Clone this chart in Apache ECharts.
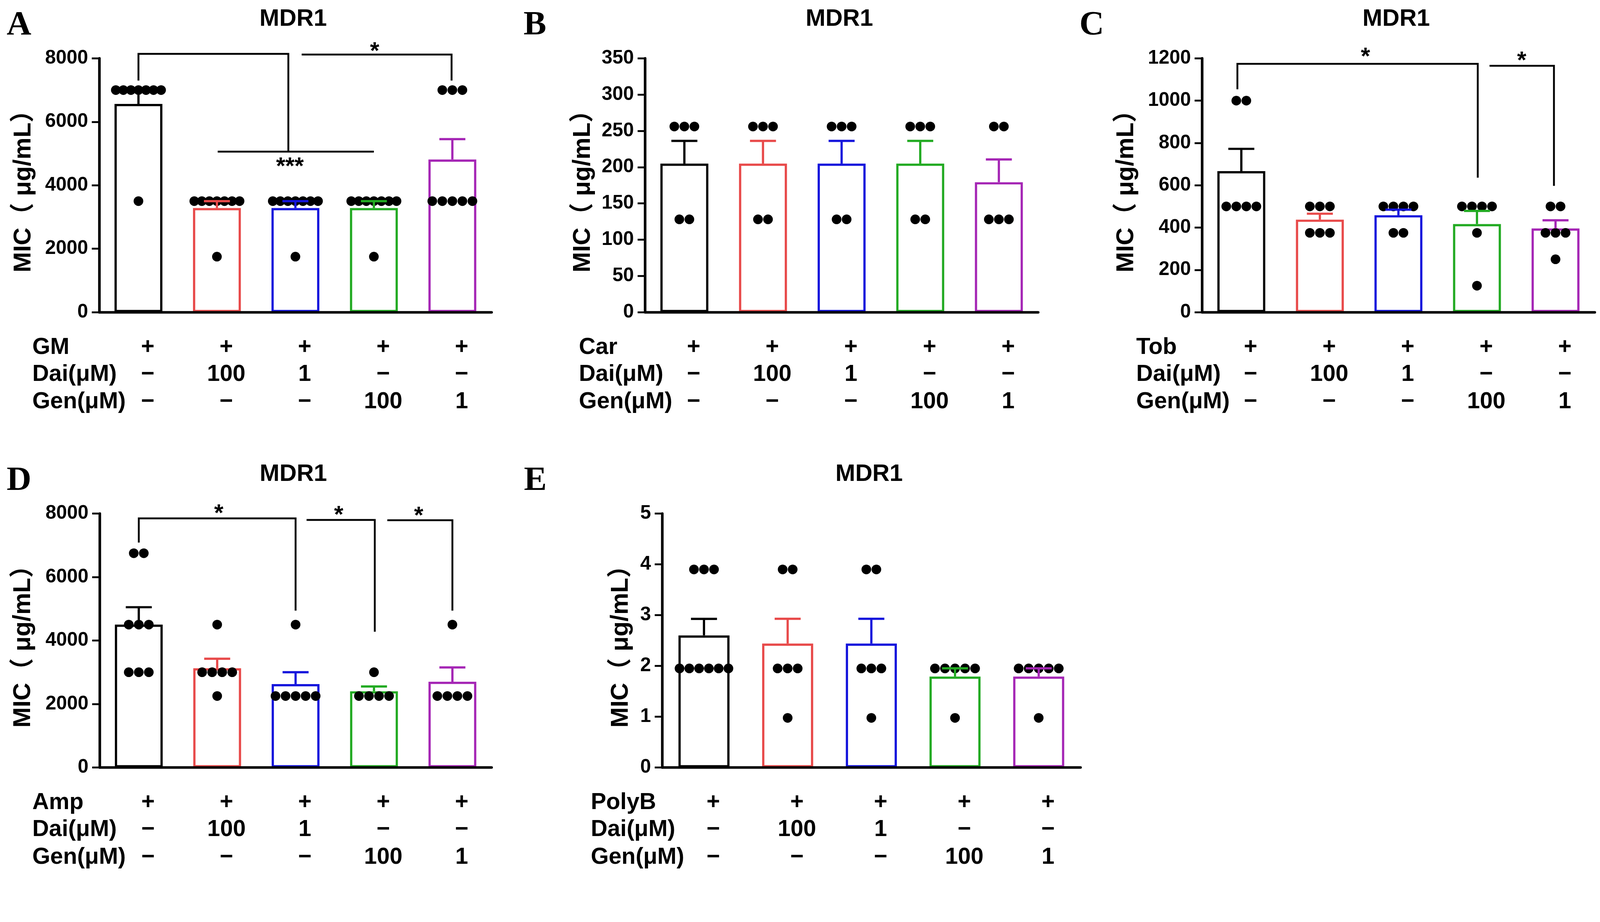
<!DOCTYPE html>
<html>
<head>
<meta charset="utf-8">
<script src="https://cdn.jsdelivr.net/npm/echarts@6/dist/echarts.min.js"></script>
<title>MDR1</title>
<style>
  html, body, #main { width: 100%; height: 100%; margin: 0; background: #fff; }
</style>
</head>
<body>
<div id="main"></div>
<script type="text/javascript">
// colour of each group (bar outline / error bar)
var groupColors = ['#000000', '#e84a4a', '#1414dc', '#22aa22', '#a526b5'];

// rows of the treatment table under every panel
var rowPlus = ['+', '+', '+', '+', '+'];
var rowDai = ['−', '100', '1', '−', '−'];
var rowGen = ['−', '−', '−', '100', '1'];
var rowDaiName = 'Dai(μM)';
var rowGenName = 'Gen(μM)';
var yName = 'MIC（ μg/mL）';

// A  GM
var gmPoints = [
  [7000, 7000, 7000, 7000, 7000, 7000, 7000, 3500],
  [3500, 3500, 3500, 3500, 3500, 3500, 3500, 1750],
  [3500, 3500, 3500, 3500, 3500, 3500, 3500, 1750],
  [3500, 3500, 3500, 3500, 3500, 3500, 3500, 1750],
  [7000, 7000, 7000, 3500, 3500, 3500, 3500, 3500]
];
var gmMean = [6562.5, 3281.3, 3281.3, 3281.3, 4812.5];
var gmSem = [437.5, 218.8, 218.8, 218.8, 640.4];
var gmAxis = [0, 8000, 2000];
var gmBrackets = [
  [[0, 7300], [0, 8140], [1.91, 8140], [1.91, 5060]],
  [[1.01, 5060], [3.0, 5060]],
  [[2.08, 8120], [3.99, 8120], [3.99, 7300]]
];
var gmStars = [[1.93, 4745, '***'], [3.01, 8375, '*']];

// B  Car
var carPoints = [
  [256, 256, 256, 128, 128],
  [256, 256, 256, 128, 128],
  [256, 256, 256, 128, 128],
  [256, 256, 256, 128, 128],
  [256, 256, 128, 128, 128]
];
var carMean = [204.8, 204.8, 204.8, 204.8, 179.2];
var carSem = [31.4, 31.4, 31.4, 31.4, 31.4];
var carAxis = [0, 350, 50];
var carBrackets = [];
var carStars = [];

// C  Tob
var tobPoints = [
  [1000, 1000, 500, 500, 500, 500],
  [500, 500, 500, 375, 375, 375],
  [500, 500, 500, 500, 375, 375],
  [500, 500, 500, 500, 375, 125],
  [500, 500, 375, 375, 375, 250]
];
var tobMean = [666.7, 437.5, 458.3, 416.7, 395.8];
var tobSem = [105.4, 28.0, 26.4, 61.8, 38.4];
var tobAxis = [0, 1200, 200];
var tobBrackets = [
  [[-0.05, 1054], [-0.05, 1174], [3.01, 1174], [3.01, 636]],
  [[3.16, 1165], [3.98, 1165], [3.98, 597]]
];
var tobStars = [[1.58, 1230, '*'], [3.57, 1211, '*']];

// D  Amp
var ampPoints = [
  [6750, 6750, 4500, 4500, 4500, 3000, 3000, 3000],
  [4500, 3000, 3000, 3000, 3000, 2250],
  [4500, 2250, 2250, 2250, 2250, 2250],
  [3000, 2250, 2250, 2250, 2250],
  [4500, 2250, 2250, 2250, 2250]
];
var ampMean = [4500, 3125, 2625, 2400, 2700];
var ampSem = [548.9, 301.0, 375.0, 150.0, 450.0];
var ampAxis = [0, 8000, 2000];
var ampBrackets = [
  [[0, 7086], [0, 7848], [2.0, 7848], [2.0, 4942]],
  [[2.14, 7800], [3.01, 7800], [3.01, 4275]],
  [[3.17, 7790], [4.0, 7790], [4.0, 4942]]
];
var ampStars = [[1.02, 8152, '*'], [2.55, 8105, '*'], [3.57, 8082, '*']];

// E  PolyB
var pbPoints = [
  [3.9, 3.9, 3.9, 1.95, 1.95, 1.95, 1.95, 1.95, 1.95],
  [3.9, 3.9, 1.95, 1.95, 1.95, 0.975],
  [3.9, 3.9, 1.95, 1.95, 1.95, 0.975],
  [1.95, 1.95, 1.95, 1.95, 1.95, 0.975],
  [1.95, 1.95, 1.95, 1.95, 1.95, 0.975]
];
var pbMean = [2.6, 2.44, 2.44, 1.79, 1.79];
var pbSem = [0.325, 0.4875, 0.4875, 0.1625, 0.1625];
var pbAxis = [0, 5, 1];
var pbBrackets = [];
var pbStars = [];

var sans = "'Liberation Sans', Arial, 'Noto Sans CJK SC', sans-serif";
var serif = "'Liberation Serif', 'Times New Roman', serif";

// panel layout, in pixels of a 4306 wide picture
var panels = [
  { letter: 'A', drug: 'GM', pts: gmPoints, mean: gmMean, sem: gmSem, axis: gmAxis, br: gmBrackets, st: gmStars,
    left: 267, top: 157, width: 1056, letterX: 18, nameGap: 170, rowGap: 180 },
  { letter: 'B', drug: 'Car', pts: carPoints, mean: carMean, sem: carSem, axis: carAxis, br: carBrackets, st: carStars,
    left: 1736, top: 157, width: 1058, letterX: 1409, nameGap: 134, rowGap: 178 },
  { letter: 'C', drug: 'Tob', pts: tobPoints, mean: tobMean, sem: tobSem, axis: tobAxis, br: tobBrackets, st: tobStars,
    left: 3235, top: 157, width: 1057, letterX: 2905, nameGap: 170, rowGap: 177 },
  { letter: 'D', drug: 'Amp', pts: ampPoints, mean: ampMean, sem: ampSem, axis: ampAxis, br: ampBrackets, st: ampStars,
    left: 268, top: 1382, width: 1055, letterX: 18, nameGap: 172, rowGap: 181 },
  { letter: 'E', drug: 'PolyB', pts: pbPoints, mean: pbMean, sem: pbSem, axis: pbAxis, br: pbBrackets, st: pbStars,
    left: 1782, top: 1382, width: 1126, letterX: 1410, nameGap: 78, rowGap: 192 }
];

var myChart = echarts.init(document.getElementById('main'));

// the page may be narrower than the picture: scale every pixel size
var S = myChart.getWidth() / 4306;
function px(v) { return v * S; }

var gridHeight = px(683);
var dotSize = px(26);

var option = {
  animation: false,
  backgroundColor: '#fff',
  title: [], grid: [], xAxis: [], yAxis: [], series: []
};

panels.forEach(function (p, k) {
  var band = px(p.width) / 5;
  var xBase = option.xAxis.length;
  var cats = ['0', '1', '2', '3', '4'];

  option.title.push({
    text: 'MDR1', left: px(p.left + p.width / 2 - 6), top: px(p.top - 137), textAlign: 'center', padding: 0,
    textStyle: { fontSize: px(64), fontWeight: 'bold', fontFamily: sans, color: '#000' }
  });
  option.title.push({
    text: p.letter, left: px(p.letterX), top: px(p.top - 134), padding: 0,
    textStyle: { fontSize: px(92), fontWeight: 'bold', fontFamily: serif, color: '#000' }
  });

  option.grid.push({
    left: px(p.left), top: px(p.top), width: px(p.width), height: gridHeight,
    outerBoundsMode: 'none', containLabel: false
  });

  // main category axis (ticks only)
  option.xAxis.push({
    type: 'category', gridIndex: k, data: cats, position: 'bottom', z: 5,
    axisLine: { onZero: false, lineStyle: { color: '#000', width: px(7) } },
    axisTick: { alignWithLabel: true, length: px(20), lineStyle: { color: '#000', width: px(5) } },
    axisLabel: { show: false }, splitLine: { show: false }
  });
  // treatment table rows
  [[p.drug, rowPlus, 95], [rowDaiName, rowDai, 168], [rowGenName, rowGen, 242]].forEach(function (r) {
    option.xAxis.push({
      type: 'category', gridIndex: k, data: cats, position: 'bottom', offset: px(r[2]),
      axisLine: { show: false, onZero: false }, axisTick: { show: false }, splitLine: { show: false },
      axisLabel: {
        interval: 0, margin: 0, verticalAlign: 'middle', padding: [0, 0, 0, px(50)],
        fontSize: px(62), fontWeight: 'bold', fontFamily: sans, color: '#000',
        formatter: function (v, i) { return r[1][i]; }
      },
      name: r[0], nameLocation: 'start', nameGap: px(p.rowGap),
      nameTextStyle: { align: 'left', verticalAlign: 'middle', fontSize: px(62), fontWeight: 'bold', fontFamily: sans, color: '#000' }
    });
  });
  // hidden value axis for the significance brackets
  option.xAxis.push({ type: 'value', gridIndex: k, min: -0.5, max: 4.5, show: false, axisLine: { onZero: false } });

  option.yAxis.push({
    type: 'value', gridIndex: k, min: p.axis[0], max: p.axis[1], interval: p.axis[2],
    axisLine: { show: true, onZero: false, lineStyle: { color: '#000', width: px(7) } },
    axisTick: { show: true, length: px(20), lineStyle: { color: '#000', width: px(5) } },
    axisLabel: {
      fontSize: px(52), fontWeight: 'bold', fontFamily: sans, color: '#000', margin: px(30),
      formatter: function (v) { return String(v); }
    },
    splitLine: { show: false },
    name: yName, nameLocation: 'middle', nameGap: px(p.nameGap), nameRotate: 90,
    nameTextStyle: { fontSize: px(66), fontWeight: 'bold', fontFamily: sans, color: '#000' }
  });

  // bars
  option.series.push({
    type: 'bar', xAxisIndex: xBase, yAxisIndex: k, barWidth: '61%', z: 2,
    itemStyle: { color: '#fff', borderWidth: px(6) },
    data: p.mean.map(function (m, i) {
      return { value: m, itemStyle: { borderColor: groupColors[i] } };
    })
  });

  // individual points, spread sideways where values repeat
  var dots = [];
  p.pts.forEach(function (vals, i) {
    var counts = {};
    vals.forEach(function (v) { counts[v] = (counts[v] || 0) + 1; });
    var seen = {};
    vals.forEach(function (v) {
      var n = counts[v];
      var j = seen[v] || 0;
      seen[v] = j + 1;
      var gap = n > 1 ? Math.min(px(27), (0.7 * band - dotSize) / (n - 1)) : 0;
      dots.push({ value: [i, v], symbolOffset: [(j - (n - 1) / 2) * gap, 0] });
    });
  });
  option.series.push({
    type: 'scatter', xAxisIndex: xBase, yAxisIndex: k, z: 3,
    symbol: 'circle', symbolSize: dotSize, itemStyle: { color: '#000', opacity: 1 },
    data: dots
  });

  // error bars (mean + SEM)
  option.series.push({
    type: 'custom', xAxisIndex: xBase, yAxisIndex: k, z: 4,
    data: p.mean.map(function (m, i) { return [i, m, p.sem[i]]; }),
    renderItem: function (params, api) {
      var i = api.value(0);
      var a = api.coord([i, api.value(1)]);
      var b = api.coord([i, api.value(1) + api.value(2)]);
      var st = { stroke: groupColors[i], lineWidth: px(6) };
      return {
        type: 'group', children: [
          { type: 'line', shape: { x1: a[0], y1: a[1], x2: b[0], y2: b[1] }, style: st },
          { type: 'line', shape: { x1: b[0] - px(35), y1: b[1], x2: b[0] + px(35), y2: b[1] }, style: st }
        ]
      };
    }
  });

  // significance brackets
  if (p.br.length) {
    option.series.push({
      type: 'custom', xAxisIndex: xBase + 4, yAxisIndex: k, z: 5,
      data: p.br.map(function (b) { return b[0]; }),
      renderItem: function (params, api) {
        var pts = p.br[params.dataIndex].map(function (q) { return api.coord(q); });
        return { type: 'polyline', shape: { points: pts }, style: { stroke: '#000', lineWidth: px(5), fill: null } };
      }
    });
    option.series.push({
      type: 'custom', xAxisIndex: xBase + 4, yAxisIndex: k, z: 5,
      data: p.st.map(function (s) { return [s[0], s[1]]; }),
      renderItem: function (params, api) {
        var c = api.coord([api.value(0), api.value(1)]);
        return {
          type: 'text', x: c[0], y: c[1] + px(15),
          style: {
            text: p.st[params.dataIndex][2], fill: '#000', fontSize: px(64), fontWeight: 'bold',
            fontFamily: sans, textAlign: 'center', textVerticalAlign: 'middle'
          }
        };
      }
    });
  }
});

myChart.setOption(option);

window.onresize = function () {
  myChart.resize();
};
</script>
</body>
</html>
